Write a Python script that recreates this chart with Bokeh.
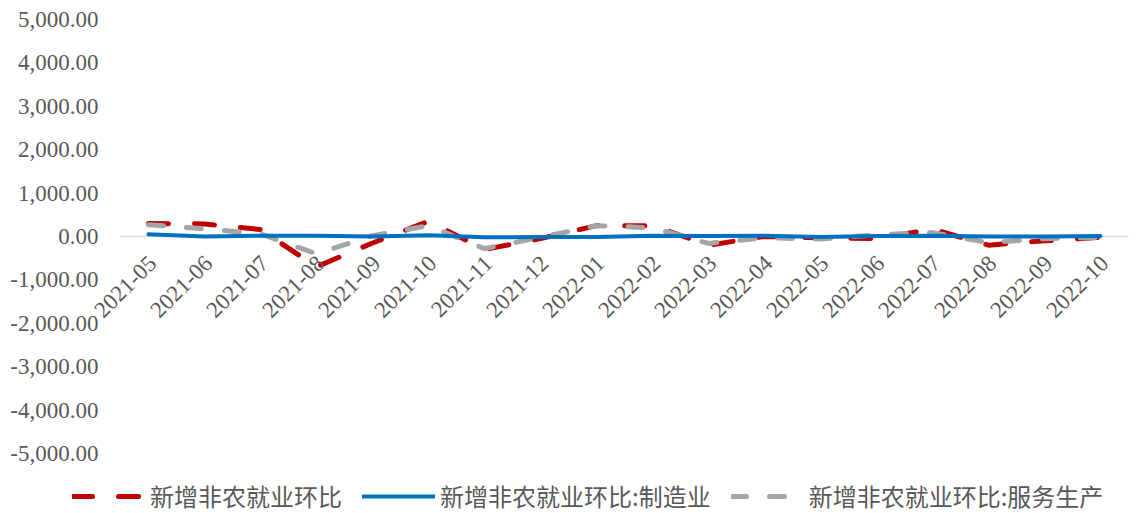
import math
from bokeh.plotting import figure
from bokeh.models import Range1d, Legend, LegendItem, ColumnDataSource
from bokeh.core.properties import value
from bokeh.embed import file_html
from bokeh.resources import INLINE

months = ["2021-05", "2021-06", "2021-07", "2021-08", "2021-09", "2021-10",
          "2021-11", "2021-12", "2022-01", "2022-02", "2022-03", "2022-04",
          "2022-05", "2022-06", "2022-07", "2022-08", "2022-09", "2022-10"]
total = [300, 290, 160, -700, -150, 350, -300, -50, 250, 250, -200, 0,
         -30, -50, 170, -200, -100, -20]
manufacturing = [50, 0, 20, 20, 0, 30, -20, -10, -10, 20, 10, 20,
                 -10, 10, 20, 0, 0, 10]
services = [270, 180, 60, -400, 20, 250, -280, -20, 250, 200, -160, -30,
            -60, 40, 90, -140, -50, -20]
y_ticks = [-5000, -4000, -3000, -2000, -1000, 0, 1000, 2000, 3000, 4000, 5000]

labels = ["新增非农就业环比", "新增非农就业环比:制造业", "新增非农就业环比:服务生产"]

n = len(months)
idx = list(range(n))

# full-canvas frame so that labels can sit outside the plotting area
W, H = 1140, 513
px_per_cat = 56.0
first_px = 148.0
x0 = -first_px / px_per_cat
x1 = (W - first_px) / px_per_cat
top_px, bot_px = 19.0, 453.0
per_px = 10000.0 / (bot_px - top_px)
y1 = 5000 + top_px * per_px
y0 = -5000 - (H - bot_px) * per_px

p = figure(width=W, height=H, x_range=Range1d(x0, x1), y_range=Range1d(y0, y1),
           min_border=0, output_backend="svg", toolbar_location=None,
           x_axis_location=None, y_axis_location=None)
p.background_fill_color = "white"
p.border_fill_color = "white"
p.outline_line_color = None
p.xgrid.visible = False
p.ygrid.visible = False

# zero line across the category band
p.segment(x0=[-0.5], y0=[0], x1=[n - 0.5], y1=[0], line_color="#D9D9D9", line_width=1.5)

src = ColumnDataSource(dict(x=idx, total=total, man=manufacturing, srv=services))

r1 = p.line("x", "total", source=src, line_color="#C00000", line_width=5,
            line_dash="20 26", line_cap="round", line_join="round")
r3 = p.line("x", "srv", source=src, line_color="#A5A5A5", line_width=5,
            line_dash="15 23", line_cap="round", line_join="round")
r2 = p.line("x", "man", source=src, line_color="#0070C0", line_width=4,
            line_cap="round", line_join="round")

# category labels below the zero line
lab_src = ColumnDataSource(dict(x=idx, y=[0] * n, t=months))
p.text("x", "y", text="t", source=lab_src, angle=math.pi / 4,
       text_align="right", text_baseline="middle", x_offset=4, y_offset=23,
       text_font=value("Liberation Serif"), text_font_size="23px",
       text_color="#595959")

# y tick labels
ytl = ColumnDataSource(dict(x=[-0.5] * len(y_ticks), y=y_ticks,
                            t=[f"{v:,.2f}" for v in y_ticks]))
p.text("x", "y", text="t", source=ytl, text_align="right", text_baseline="middle",
       x_offset=-22, text_font=value("Liberation Serif"), text_font_size="23px",
       text_color="#595959")

legend = Legend(items=[LegendItem(label=labels[0], renderers=[r1]),
                       LegendItem(label=labels[1], renderers=[r2]),
                       LegendItem(label=labels[2], renderers=[r3])],
                orientation="horizontal", location=(72, 0),
                glyph_width=73, glyph_height=20, label_standoff=5,
                spacing=20, padding=0, margin=0,
                label_text_font="Noto Sans CJK SC", label_text_font_size="24px",
                label_text_color="#595959", border_line_color=None,
                background_fill_alpha=0)
p.add_layout(legend, "center")

html = file_html(p, INLINE)
open("out.html", "w").write(html)
